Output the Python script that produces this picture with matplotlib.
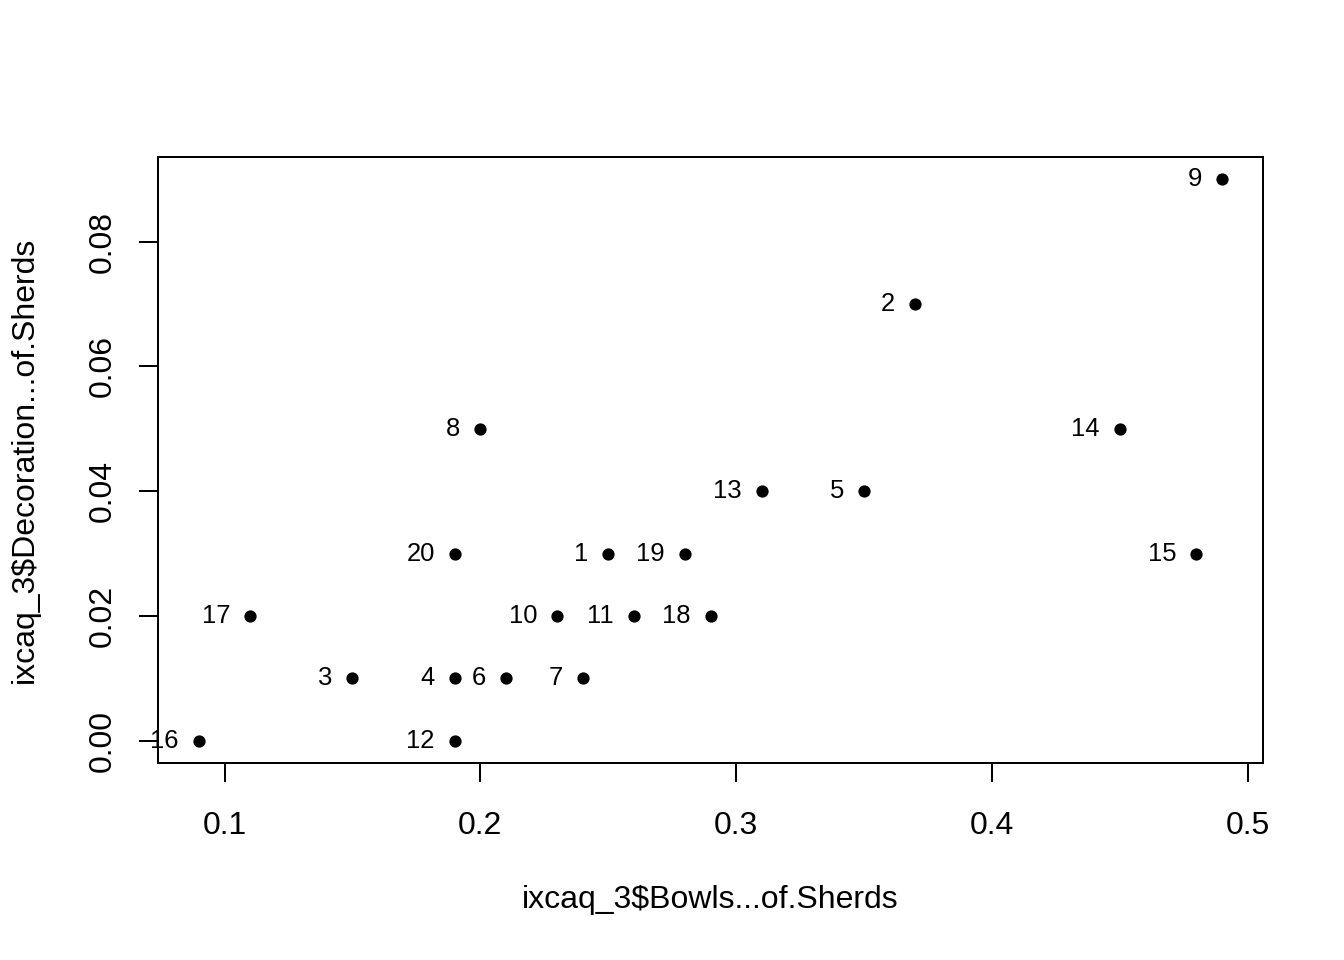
import numpy as np
import matplotlib
matplotlib.use("Agg")
import matplotlib.pyplot as plt
from matplotlib.ticker import FixedLocator, FormatStrFormatter

plt.rcParams['font.family'] = ['Liberation Sans', 'DejaVu Sans']

# share of bowls vs share of decorated sherds, per site (row number)
ids = np.arange(1, 21)
bowls = [0.25, 0.37, 0.15, 0.19, 0.35, 0.21, 0.24, 0.20, 0.49, 0.23,
         0.26, 0.19, 0.31, 0.45, 0.48, 0.09, 0.11, 0.29, 0.28, 0.19]
decoration = [0.03, 0.07, 0.01, 0.01, 0.04, 0.01, 0.01, 0.05, 0.09, 0.02,
              0.02, 0.00, 0.04, 0.05, 0.03, 0.00, 0.02, 0.02, 0.03, 0.03]
xticks = [0.1, 0.2, 0.3, 0.4, 0.5]
yticks = [0.00, 0.02, 0.04, 0.06, 0.08]

fig = plt.figure(figsize=(7, 5), dpi=192)
ax = fig.add_axes([158 / 1344, 1 - 763 / 960, (1263 - 158) / 1344, (763 - 157) / 960])

ax.plot(bowls, decoration, 'o', color='black', markersize=4.6, markeredgewidth=0)
for i, xv, yv in zip(ids, bowls, decoration):
    ax.annotate(str(i), (xv, yv), xytext=(-7.5, 0), textcoords='offset points',
                ha='right', va='center', fontsize=9.6)

# R style 4% padding
xr = max(bowls) - min(bowls)
yr = max(decoration) - min(decoration)
ax.set_xlim(min(bowls) - 0.04 * xr, max(bowls) + 0.04 * xr)
ax.set_ylim(min(decoration) - 0.04 * yr, max(decoration) + 0.04 * yr)

ax.xaxis.set_major_locator(FixedLocator(xticks))
ax.yaxis.set_major_locator(FixedLocator(yticks))
ax.xaxis.set_major_formatter(FormatStrFormatter('%.1f'))
ax.yaxis.set_major_formatter(FormatStrFormatter('%.2f'))
ax.tick_params(direction='out', length=7.2, width=0.75, labelsize=12)
ax.tick_params(axis='x', pad=10.8)
ax.tick_params(axis='y', pad=8)
for lab in ax.get_yticklabels():
    lab.set_rotation(90)
    lab.set_va('center')
for s in ax.spines.values():
    s.set_linewidth(0.75)

fig.text(0.5 * (158 + 1263) / 1344, 1 - 900 / 960, 'ixcaq_3$Bowls...of.Sherds',
         ha='center', va='center', fontsize=12)
fig.text(25 / 1344, 1 - 460 / 960, 'ixcaq_3$Decoration...of.Sherds',
         ha='center', va='center', rotation=90, fontsize=12)

fig.savefig('out.png', dpi=192)
